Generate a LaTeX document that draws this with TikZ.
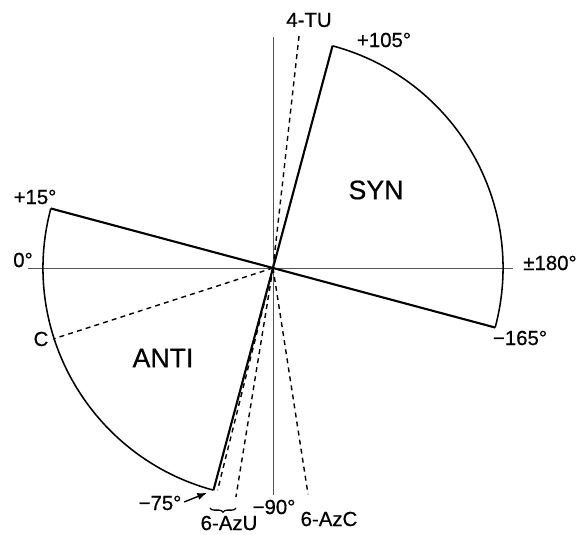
\documentclass[tikz,border=0pt]{standalone}
\usepackage{fontspec}
\setmainfont{Liberation Sans}
\newfontfamily\letterfont{Liberation Sans}[FakeBold=0.6]
\usetikzlibrary{arrows.meta,decorations.pathreplacing,calc}
\definecolor{axisGray}{HTML}{555555}
\tikzset{
sector/.style={draw=black, line width=1.5pt},
rim/.style={draw=black, line width=1.1pt},
axis/.style={draw=axisGray, line width=0.5pt},
probe/.style={draw=black, line width=1pt, dash pattern=on 3.5pt off 3pt},
lbl/.style={font=\letterfont\fontsize{14.5}{16}\selectfont, inner sep=0pt},
region/.style={font=\letterfont\fontsize{19}{22}\selectfont, inner sep=0pt},
pointer/.style={-{Latex[length=2.4mm,width=1.8mm]}, line width=1pt},
underbrace/.style={decorate, decoration={brace, amplitude=3pt, mirror}, line width=0.9pt}
}

\begin{document}
\begin{tikzpicture}[x=0.025cm, y=0.025cm]
\useasboundingbox (-273,-266) rectangle (303,268);
% centre and sector ends (0 deg lies on the left)
\coordinate (O) at (0,0);
\coordinate (p15) at (165:230);
\coordinate (m165) at (-15:230);
\coordinate (p105) at (75:230);
\coordinate (m75) at (255:230);
% axes
\coordinate (xl) at (-245,0);
\coordinate (xr) at (240,0);
\coordinate (yt) at (0,231);
\coordinate (yb) at (0,-227);
\draw[axis] (xl) -- (xr);
\draw[axis] (yt) -- (yb);
% syn and anti sectors
\draw[sector] (p15) -- (m165);
\draw[sector] (p105) -- (m75);
\draw[rim] (p105) arc (75:-15:230);
\draw[rim] (p15) arc (165:255:230);
% measured compounds
\coordinate (tu) at (83.6:234);
\coordinate (cy) at (197.9:231);
\coordinate (azuA) at (256:229);
\coordinate (azuB) at (260.8:232);
\coordinate (azc) at (278.8:229);
\foreach \e in {tu,cy,azuA,azuB,azc}
  \draw[probe] (O) -- (\e);
% labels
\node[lbl] (p15L) at (-238,71) {+15°};
\node[lbl] (zeroL) at (-250,8) {0°};
\node[lbl] (p180L) at (277,5) {±180°};
\node[lbl] (p105L) at (111,228) {+105°};
\node[lbl] (tuL) at (36,248) {4-TU};
\node[lbl] (m165L) at (247,-70) {−165°};
\node[lbl] (cyL) at (-232,-71) {C};
\node[lbl] (m75L) at (-113,-235) {−75°};
\node[lbl] (m90L) at (1,-239) {−90°};
\node[lbl] (azcL) at (56,-251) {6-AzC};
\node[lbl] (azuL) at (-44,-255) {6-AzU};
\node[region] (synL) at (103,78) {SYN};
\node[region] (antiL) at (-110,-90) {ANTI};
% pointer and brace
\draw[pointer, shorten <=2pt, shorten >=5pt] (m75L.east) -- (m75);
\coordinate (brA) at (-63,-240);
\coordinate (brB) at (-37,-240);
\draw[underbrace] (brA) -- (brB);
\end{tikzpicture}
\end{document}
